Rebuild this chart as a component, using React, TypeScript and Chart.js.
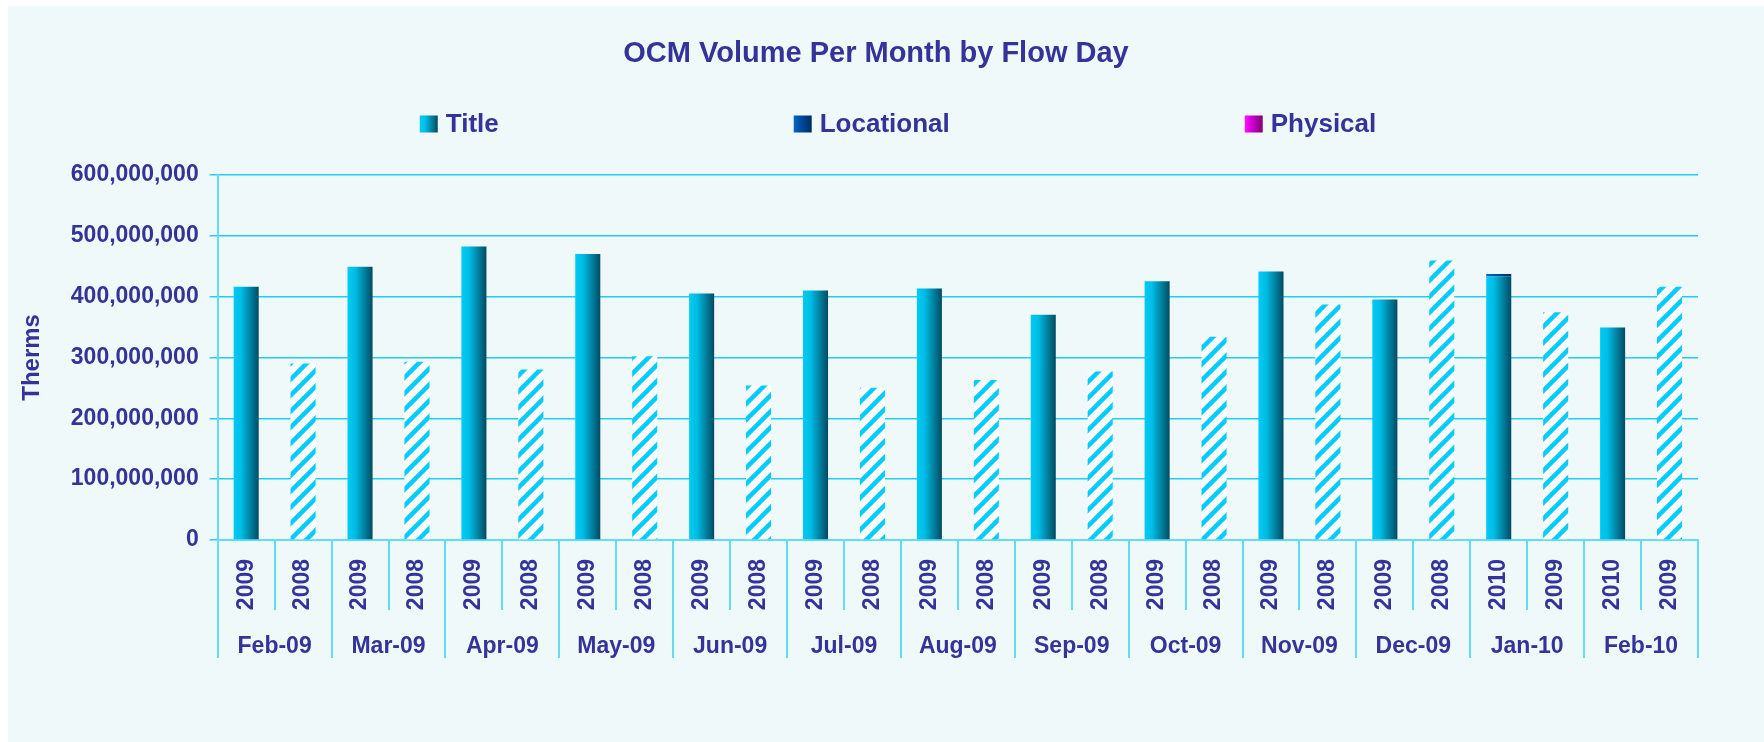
import React, { useEffect, useRef } from "react";
import { Chart, registerables } from "chart.js";

Chart.register(...registerables);

// ---------- data ----------
const monthLabels = [
  "Feb-09", "Mar-09", "Apr-09", "May-09", "Jun-09", "Jul-09", "Aug-09",
  "Sep-09", "Oct-09", "Nov-09", "Dec-09", "Jan-10", "Feb-10",
];

const yearLabels = [
  "2009", "2008", "2009", "2008", "2009", "2008", "2009", "2008",
  "2009", "2008", "2009", "2008", "2009", "2008", "2009", "2008",
  "2009", "2008", "2009", "2008", "2009", "2008", "2010", "2009",
  "2010", "2009",
];

const titleValues = [
  416000000, 290000000, 449000000, 293000000, 482000000, 280000000,
  470000000, 302000000, 405000000, 254000000, 410000000, 250000000,
  413000000, 263000000, 370000000, 277000000, 425000000, 334000000,
  441000000, 387000000, 395000000, 459000000, 433000000, 374000000,
  349000000, 416000000,
];

const locationalValues = [
  0, 0, 0, 0, 0, 0, 0, 0, 0, 0, 0, 0, 0, 0, 0, 0, 0, 0, 0, 0, 0, 0,
  4000000, 0, 0, 0,
];

const physicalValues = [
  0, 0, 0, 0, 0, 0, 0, 0, 0, 0, 0, 0, 0, 0, 0, 0, 0, 0, 0, 0, 0, 0,
  0, 0, 0, 0,
];

const seriesNames = ["Title", "Locational", "Physical"];

// second bar of each month pair is the prior-year comparison (hatched)
const priorYear = yearLabels.map((_, i) => i % 2 === 1);

// ---------- styles ----------
const FONT = "'Liberation Sans', Arial, Helvetica, sans-serif";
const TEXT = "#333399";
const GRID = "#22CDF3";
const AXIS = "#63DCF6";
const BAR_PCT = 0.44;

const gradientStops: Record<string, string[]> = {
  Title: ["#00CBF5", "#00BDE6", "#004B62"],
  Locational: ["#0068CC", "#0050A8", "#002A66"],
  Physical: ["#FF14FF", "#E000E0", "#7A007A"],
};

function makeHatch(): CanvasPattern | string {
  const c = document.createElement("canvas");
  const s = 16;
  c.width = s;
  c.height = s;
  const g = c.getContext("2d");
  if (!g) return "#00CCFF";
  g.fillStyle = "#FFFFFF";
  g.fillRect(0, 0, s, s);
  g.strokeStyle = "#00CCFF";
  g.lineWidth = 4.5;
  for (let k = -1; k <= 1; k++) {
    g.beginPath();
    g.moveTo(k * s - 2, s + 2);
    g.lineTo(k * s + s + 2, -2);
    g.stroke();
  }
  const p = g.createPattern(c, "repeat");
  return p || "#00CCFF";
}

function barGradient(chart: any, i: number, stops: string[]) {
  const xs = chart.scales && chart.scales.x;
  if (!xs || i === undefined || !chart.chartArea) return stops[0];
  const center = xs.getPixelForValue(i);
  const w = (xs.width / yearLabels.length) * BAR_PCT;
  const g = chart.ctx.createLinearGradient(center - w / 2, 0, center + w / 2, 0);
  g.addColorStop(0, stops[0]);
  g.addColorStop(0.3, stops[1]);
  g.addColorStop(1, stops[2]);
  return g;
}

const legendPlugin = {
  id: "customLegend",
  afterDraw(chart: any) {
    const ctx = chart.ctx as CanvasRenderingContext2D;
    ctx.save();
    ctx.font = `bold 26px ${FONT}`;
    ctx.textBaseline = "middle";
    ctx.textAlign = "left";
    const boxW = 18;
    const boxH = 17;
    const gap = 8;
    const spacing = 295;
    const widths = seriesNames.map((n) => boxW + gap + ctx.measureText(n).width);
    const total = widths.reduce((a, b) => a + b, 0) + spacing * (seriesNames.length - 1);
    const cy = 119;
    let x = 890 - total / 2;
    seriesNames.forEach((name, k) => {
      const st = gradientStops[name];
      const g = ctx.createLinearGradient(x, 0, x + boxW, 0);
      g.addColorStop(0, st[0]);
      g.addColorStop(0.3, st[1]);
      g.addColorStop(1, st[2]);
      ctx.fillStyle = g;
      ctx.fillRect(x, cy - boxH / 2 - 1, boxW, boxH);
      ctx.fillStyle = TEXT;
      ctx.fillText(name, x + boxW + gap, cy);
      x += widths[k] + spacing;
    });
    ctx.restore();
  },
};

export default function App() {
  const ref = useRef<HTMLCanvasElement | null>(null);

  useEffect(() => {
    if (!ref.current) return;
    const hatch = makeHatch();
    const valuesBySeries = [titleValues, locationalValues, physicalValues];

    const chart = new Chart(ref.current, {
      type: "bar",
      data: {
        labels: yearLabels,
        datasets: seriesNames.map((name, k) => ({
          label: name,
          data: valuesBySeries[k],
          xAxisID: "x",
          yAxisID: "y",
          barPercentage: BAR_PCT,
          categoryPercentage: 1,
          borderWidth: 0,
          backgroundColor: (c: any) => {
            if (name === "Title" && priorYear[c.dataIndex]) return hatch;
            return barGradient(c.chart, c.dataIndex, gradientStops[name]);
          },
        })),
      },
      options: {
        responsive: false,
        animation: false,
        devicePixelRatio: 1,
        layout: { padding: { left: 8, right: 28, top: 0, bottom: 84 } },
        plugins: {
          legend: { display: false },
          tooltip: { enabled: false },
          title: {
            display: true,
            text: "OCM Volume Per Month by Flow Day",
            color: TEXT,
            font: { family: FONT, size: 29, weight: "bold" },
            padding: { top: 31, bottom: 103 },
          },
        },
        scales: {
          x: {
            type: "category",
            position: "bottom",
            stacked: true,
            offset: true,
            grid: {
              display: true,
              offset: true,
              drawOnChartArea: false,
              drawTicks: true,
              tickLength: 70,
              color: AXIS,
              lineWidth: 2,
            },
            border: { display: true, color: AXIS, width: 2 },
            ticks: {
              autoSkip: false,
              minRotation: 90,
              maxRotation: 90,
              padding: -51,
              color: TEXT,
              font: { family: FONT, size: 23, weight: "bold" },
            },
            afterFit: (s: any) => {
              s.height = 70;
            },
          },
          x2: {
            type: "category",
            position: "bottom",
            labels: monthLabels,
            offset: true,
            grid: {
              display: true,
              offset: true,
              drawOnChartArea: false,
              drawTicks: true,
              tickLength: 48,
              color: AXIS,
              lineWidth: 2,
            },
            border: { display: false },
            ticks: {
              autoSkip: false,
              maxRotation: 0,
              minRotation: 0,
              padding: -25,
              color: TEXT,
              font: { family: FONT, size: 23, weight: "bold" },
            },
            afterFit: (s: any) => {
              s.height = 48;
            },
          },
          y: {
            type: "linear",
            position: "left",
            stacked: true,
            min: 0,
            max: 600000000,
            grid: {
              color: GRID,
              lineWidth: 1.5,
              tickLength: 8,
            },
            border: { display: true, color: AXIS, width: 2 },
            ticks: {
              stepSize: 100000000,
              padding: 11,
              color: TEXT,
              font: { family: FONT, size: 23, weight: "bold" },
              callback: (v: any) => Number(v).toLocaleString("en-US"),
            },
            title: {
              display: true,
              text: "Therms",
              color: TEXT,
              font: { family: FONT, size: 24, weight: "bold" },
              padding: { top: 2, bottom: 13 },
            },
          },
          yR: {
            type: "linear",
            position: "right",
            display: true,
            grid: { display: false, drawTicks: false },
            border: { display: false },
            ticks: { display: false },
            afterFit: (s: any) => {
              s.width = 38;
            },
          },
        },
      },
      plugins: [legendPlugin],
    } as any);

    return () => chart.destroy();
  }, []);

  return (
    <div
      style={{
        position: "absolute",
        left: 8,
        top: 6,
        width: 1756,
        height: 736,
        background: "#F0F9FA",
      }}
    >
      <canvas ref={ref} width={1756} height={736} style={{ display: "block" }} />
    </div>
  );
}
